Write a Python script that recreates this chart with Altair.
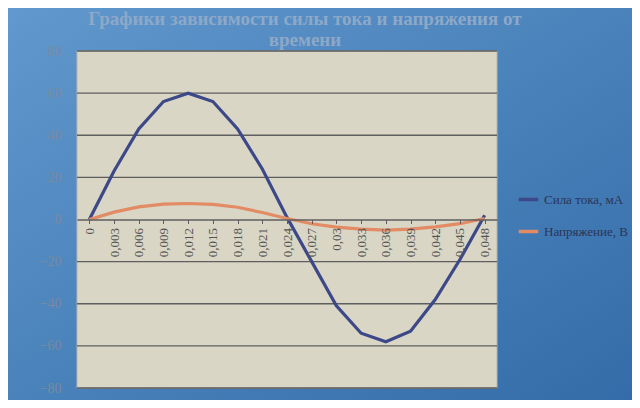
import altair as alt
import pandas as pd

times = ["0", "0,003", "0,006", "0,009", "0,012", "0,015", "0,018", "0,021", "0,024",
         "0,027", "0,03", "0,033", "0,036", "0,039", "0,042", "0,045", "0,048"]
current = [0, 23, 43, 56, 60, 56, 43, 24, 1, -20, -41, -54, -58, -53, -38, -19, 2]
voltage = [0, 3.5, 6, 7.3, 7.6, 7.2, 5.8, 3.3, 0.5, -2, -3.6, -4.6, -5, -4.6, -3.5, -2, 0.5]
series_names = ["Сила тока, мА", "Напряжение, В"]
y_ticks = [-80, -60, -40, -20, 0, 20, 40, 60, 80]
title_lines = ["Графики зависимости силы тока и напряжения от", "времени"]

rows = []
for t, c, v in zip(times, current, voltage):
    rows.append({"t": t, "series": series_names[0], "value": c})
    rows.append({"t": t, "series": series_names[1], "value": v})
df = pd.DataFrame(rows)
grid_df = pd.DataFrame({"value": [g for g in y_ticks if g != 0]})
one = pd.DataFrame({"a": [0]})

W, H = 420, 337
PL, PT, PR, PB = 69, 43, 135, 12
serif = "Liberation Serif"

ydom = alt.Scale(domain=[-80, 80])
yaxis = alt.Axis(title=None, values=y_ticks, grid=False, domain=False, ticks=False,
                 zindex=2, labelFont=serif, labelFontSize=14, labelColor="#7a8a9e",
                 labelPadding=16)

bg = alt.Chart(one).mark_rect(
    fill=alt.Gradient(gradient="linear", x1=0, x2=1, y1=0, y2=1,
                      stops=[alt.GradientStop(offset=0, color="#6198cd"),
                             alt.GradientStop(offset=1, color="#336ca8")])
).encode(x=alt.value(-PL), x2=alt.value(W + PR), y=alt.value(-PT), y2=alt.value(H + PB))

plotbg = alt.Chart(one).mark_rect(fill="#d9d6c5", stroke="#b8b6a8", strokeWidth=1).encode(
    x=alt.value(0), x2=alt.value(W), y=alt.value(0), y2=alt.value(H))

grid = alt.Chart(grid_df).mark_rule(color="#5e5e5e", strokeWidth=1.3).encode(
    y=alt.Y("value:Q", scale=ydom, axis=yaxis))

lines = alt.Chart(df).mark_line(strokeWidth=3.2).encode(
    x=alt.X("t:N", sort=times, scale=alt.Scale(type="point", padding=0.5),
            axis=alt.Axis(title=None, labelAngle=270, offset=-H / 2, zindex=2,
                          labelFont=serif, labelFontSize=13, labelColor="#555555",
                          labelPadding=4, domainColor="#5e5e5e", domainWidth=1.3,
                          tickColor="#5e5e5e", tickSize=4, grid=False)),
    y=alt.Y("value:Q", scale=ydom, axis=yaxis),
    color=alt.Color("series:N", sort=series_names,
                    scale=alt.Scale(domain=series_names, range=["#3c4888", "#e38b64"]),
                    legend=alt.Legend(title=None, orient="none", legendX=W + 20, legendY=137,
                                      symbolType="stroke", symbolStrokeWidth=3.5, symbolSize=380,
                                      labelFont=serif, labelFontSize=13, labelColor="#2b3555",
                                      rowPadding=13, zindex=2)),
    detail="series:N",
)

chart = alt.layer(bg, plotbg, grid, lines).properties(
    width=W, height=H,
    autosize=alt.AutoSizeParams(type="none"),
    padding={"left": PL, "top": PT, "right": PR, "bottom": PB},
    background="#4a85be",
    title=alt.TitleParams(text=title_lines, anchor="middle", frame="group", dx=18,
                          fontSize=19, font=serif, fontWeight="bold", color="#8ea8c8",
                          offset=-42, lineHeight=21, zindex=2),
).configure_view(stroke=None)

chart.save("out.html", embed_options={"renderer": "svg", "actions": False})
